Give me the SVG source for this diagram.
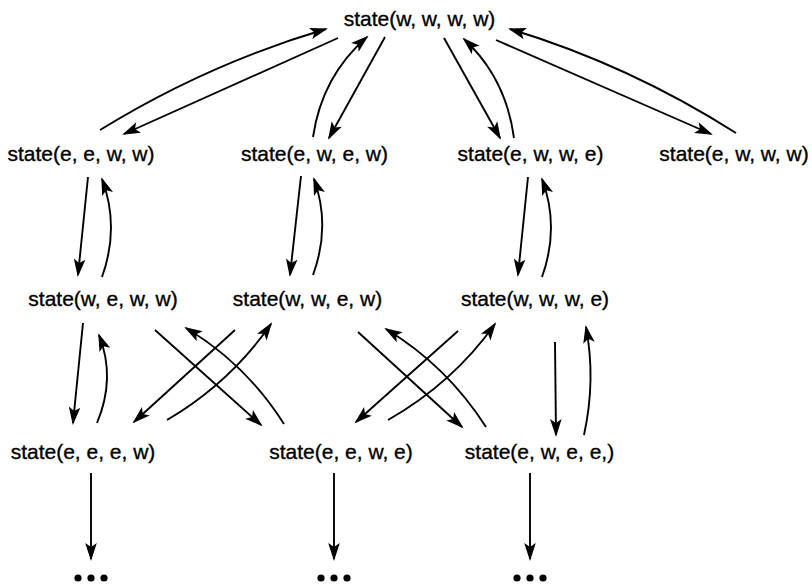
<svg xmlns="http://www.w3.org/2000/svg" width="812" height="584" viewBox="0 0 812 584">
<style>
  .lbl { font-family: "Liberation Sans", Arial, sans-serif; font-size: 21px; fill: #000; stroke: #000; stroke-width: 0.35; text-anchor: middle; }
  .e { fill: none; stroke: #000; stroke-width: 1.9; marker-end: url(#ah); }
</style>
<defs>
  <marker id="ah" markerUnits="userSpaceOnUse" viewBox="-18 -7 22 14" markerWidth="22" markerHeight="14" refX="0" refY="0" orient="auto" overflow="visible">
    <path d="M2,0 L-16,-5.8 L-12,0 L-16,5.8 Z" fill="#000"/>
  </marker>
</defs>
<rect width="812" height="584" fill="#fff"/>

<g id="connectors">
  <!-- top level -->
  <path class="e" d="M100,130 Q207,64 326,29"/>
  <path class="e" d="M338,38 L124,134"/>
  <path class="e" d="M313,137 Q322,76 367,37"/>
  <path class="e" d="M385,37 L329,138"/>
  <path class="e" d="M444,38 L500,138"/>
  <path class="e" d="M514,138 Q506,78 464,39"/>
  <path class="e" d="M496,40 L711,134"/>
  <path class="e" d="M736,133 Q629,65 510,29"/>
  <!-- row 2 to row 3 -->
  <path class="e" d="M88,177 L78,275"/>
  <path class="e" d="M102,277 Q120,227 102,179"/>
  <path class="e" d="M301,176 L290,275"/>
  <path class="e" d="M313,275 Q331,226 314,179"/>
  <path class="e" d="M528,177 L518,275"/>
  <path class="e" d="M542,277 Q560,227 542,179"/>
  <!-- row 3 to row 4 -->
  <path class="e" d="M83,323 L73,423"/>
  <path class="e" d="M97,423 Q116,378 99,335"/>
  <path class="e" d="M155,330 L261,425"/>
  <path class="e" d="M284,424 Q246,364 186,328"/>
  <path class="e" d="M235,330 L134,422"/>
  <path class="e" d="M167,420 Q230,383 271,324"/>
  <path class="e" d="M358,332 L462,427"/>
  <path class="e" d="M486,427 Q447,366 386,329"/>
  <path class="e" d="M458,331 L356,422"/>
  <path class="e" d="M388,420 Q453,383 495,324"/>
  <path class="e" d="M555,342 L556,435"/>
  <path class="e" d="M584,435 Q596,380 586,327"/>
  <!-- row 4 to continuation -->
  <path class="e" d="M91,473 L91,559"/>
  <path class="e" d="M334,473 L334,559"/>
  <path class="e" d="M530,473 L530,559"/>
</g>

<g id="n_wwww"><text class="lbl" x="419.5" y="26">state(w, w, w, w)</text></g>
<g id="n_eeww"><text class="lbl" x="81" y="161">state(e, e, w, w)</text></g>
<g id="n_ewew"><text class="lbl" x="314.5" y="161">state(e, w, e, w)</text></g>
<g id="n_ewwe"><text class="lbl" x="530.5" y="161">state(e, w, w, e)</text></g>
<g id="n_ewww"><text class="lbl" x="734" y="161">state(e, w, w, w)</text></g>
<g id="n_weww"><text class="lbl" x="103" y="306">state(w, e, w, w)</text></g>
<g id="n_wwew"><text class="lbl" x="307.5" y="306">state(w, w, e, w)</text></g>
<g id="n_wwwe"><text class="lbl" x="535" y="306">state(w, w, w, e)</text></g>
<g id="n_eeew"><text class="lbl" x="83" y="459">state(e, e, e, w)</text></g>
<g id="n_eewe"><text class="lbl" x="341" y="459">state(e, e, w, e)</text></g>
<g id="n_ewee"><text class="lbl" x="539.5" y="459">state(e, w, e, e,)</text></g>

<g id="dots1" fill="#000"><circle cx="78" cy="578" r="3.6"/><circle cx="91" cy="578" r="3.6"/><circle cx="104" cy="578" r="3.6"/></g>
<g id="dots2" fill="#000"><circle cx="321" cy="578" r="3.6"/><circle cx="334" cy="578" r="3.6"/><circle cx="347" cy="578" r="3.6"/></g>
<g id="dots3" fill="#000"><circle cx="517" cy="578" r="3.6"/><circle cx="530" cy="578" r="3.6"/><circle cx="543" cy="578" r="3.6"/></g>
</svg>
